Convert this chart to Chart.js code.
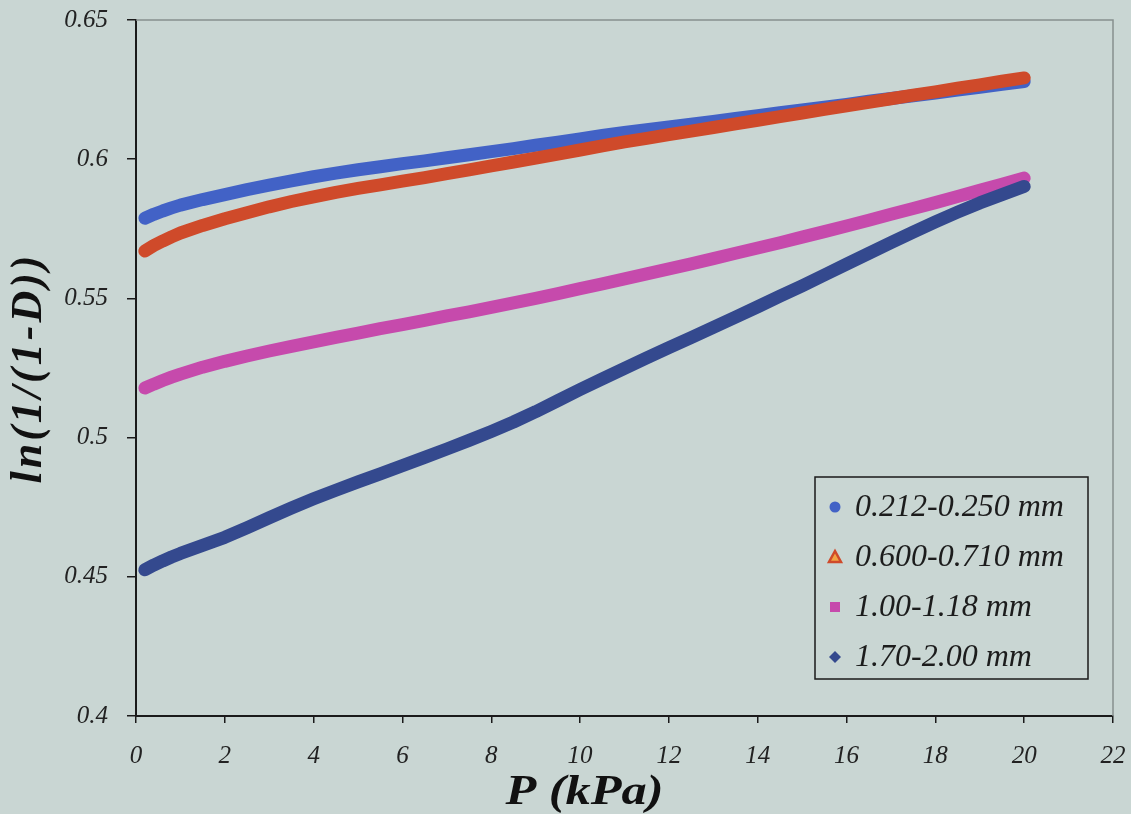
<!DOCTYPE html>
<html lang="en">
<head>
    <meta charset="UTF-8">
    <title>ln(1/(1-D)) vs P</title>
    <script src="https://cdn.jsdelivr.net/npm/chart.js"></script>
    <style>
        html, body { margin: 0; padding: 0; background: #c9d6d3; }
        #wrap { width: 1131px; height: 814px; }
    </style>
</head>
<body>
<div id="wrap"><canvas id="chart" width="1131" height="814"></canvas></div>
<script>
    // pressure P (kPa)
    const pressure = [0.2, 0.4, 0.6, 0.8, 1, 1.5, 2, 2.5, 3, 3.5, 4, 4.5, 5, 5.5, 6, 6.5, 7, 7.5, 8, 8.5,
        9, 9.5, 10, 10.5, 11, 11.5, 12, 12.5, 13, 13.5, 14, 14.5, 15, 15.5, 16, 16.5, 17, 17.5, 18, 18.5, 19, 19.5, 20];

    // ln(1/(1-D)) per size fraction
    const size212 = [0.5788, 0.5802, 0.5814, 0.5825, 0.5835, 0.5855, 0.5873, 0.5891, 0.5907, 0.5922, 0.5937, 0.5950,
        0.5962, 0.5973, 0.5984, 0.5994, 0.6005, 0.6016, 0.6027, 0.6038, 0.6050, 0.6061, 0.6073, 0.6085, 0.6096, 0.6106,
        0.6116, 0.6126, 0.6136, 0.6146, 0.6156, 0.6167, 0.6177, 0.6187, 0.6197, 0.6208, 0.6218, 0.6228, 0.6238, 0.6248,
        0.6258, 0.6269, 0.6279];
    const size600 = [0.5670, 0.5690, 0.5706, 0.5721, 0.5735, 0.5762, 0.5786, 0.5808, 0.5829, 0.5848, 0.5865, 0.5881,
        0.5895, 0.5908, 0.5921, 0.5934, 0.5948, 0.5962, 0.5976, 0.5990, 0.6004, 0.6018, 0.6033, 0.6048, 0.6062, 0.6075,
        0.6088, 0.6101, 0.6114, 0.6127, 0.6140, 0.6153, 0.6166, 0.6179, 0.6192, 0.6204, 0.6217, 0.6230, 0.6242, 0.6255,
        0.6267, 0.6280, 0.6292];
    const size100 = [0.5178, 0.5192, 0.5205, 0.5217, 0.5228, 0.5253, 0.5274, 0.5293, 0.5311, 0.5328, 0.5344, 0.5360,
        0.5375, 0.5391, 0.5406, 0.5421, 0.5437, 0.5452, 0.5468, 0.5484, 0.5500, 0.5517, 0.5535, 0.5552, 0.5570, 0.5588,
        0.5606, 0.5624, 0.5643, 0.5662, 0.5681, 0.5700, 0.5720, 0.5740, 0.5760, 0.5781, 0.5802, 0.5823, 0.5844, 0.5866,
        0.5888, 0.5910, 0.5932];
    const size170 = [0.4525, 0.4542, 0.4557, 0.4571, 0.4584, 0.4613, 0.4642, 0.4676, 0.4712, 0.4747, 0.4780, 0.4811,
        0.4841, 0.4870, 0.4899, 0.4929, 0.4959, 0.4990, 0.5022, 0.5056, 0.5093, 0.5133, 0.5173, 0.5211, 0.5249, 0.5286,
        0.5323, 0.5359, 0.5396, 0.5433, 0.5470, 0.5508, 0.5545, 0.5584, 0.5623, 0.5662, 0.5700, 0.5738, 0.5775, 0.5810,
        0.5843, 0.5873, 0.5902];

    const seriesNames = ['0.212-0.250 mm', '0.600-0.710 mm', '1.00-1.18 mm', '1.70-2.00 mm'];
    const xTicks = [0, 2, 4, 6, 8, 10, 12, 14, 16, 18, 20, 22];
    const yTicks = [0.4, 0.45, 0.5, 0.55, 0.6, 0.65];
    const xTitle = 'P (kPa)';
    const yTitle = 'ln(1/(1-D))';

    const serif = "'Liberation Serif', 'Times New Roman', serif";
    const colors = ['#4262c6', '#cf4a2a', '#c64aac', '#34498e'];
    const markers = ['circle', 'triangle', 'rect', 'rectRot'];

    const toPoints = vals => pressure.map((p, i) => ({ x: p, y: vals[i] }));

    // plot frame, legend box inside the plot, axis titles
    const boxLegend = {
        id: 'boxLegend',
        beforeDatasetsDraw(chart) {
            const { ctx, chartArea: a } = chart;
            ctx.save();
            ctx.strokeStyle = '#87908f';
            ctx.lineWidth = 1.5;
            ctx.beginPath();
            ctx.moveTo(a.left, a.top);
            ctx.lineTo(a.right, a.top);
            ctx.lineTo(a.right, a.bottom);
            ctx.stroke();
            ctx.restore();
        },
        afterDraw(chart) {
            const { ctx, chartArea: a } = chart;
            const w = 273, h = 202;
            const x0 = a.right - 25 - w, y0 = a.bottom - 37 - h;
            ctx.save();
            ctx.strokeStyle = '#1a1a1a';
            ctx.lineWidth = 1.5;
            ctx.strokeRect(x0, y0, w, h);
            ctx.font = 'italic 32px ' + serif;
            ctx.textBaseline = 'middle';
            chart.data.datasets.forEach((ds, i) => {
                const cy = y0 + 30 + i * 50;
                const cx = x0 + 20;
                ctx.beginPath();
                if (markers[i] === 'circle') {
                    ctx.arc(cx, cy, 5.5, 0, Math.PI * 2);
                    ctx.fillStyle = ds.borderColor;
                    ctx.fill();
                } else if (markers[i] === 'triangle') {
                    ctx.moveTo(cx, cy - 6);
                    ctx.lineTo(cx + 6, cy + 5);
                    ctx.lineTo(cx - 6, cy + 5);
                    ctx.closePath();
                    ctx.fillStyle = '#f2a444';
                    ctx.fill();
                    ctx.strokeStyle = ds.borderColor;
                    ctx.lineWidth = 2.5;
                    ctx.stroke();
                } else if (markers[i] === 'rect') {
                    ctx.rect(cx - 5, cy - 5, 10, 10);
                    ctx.fillStyle = ds.borderColor;
                    ctx.fill();
                } else {
                    ctx.moveTo(cx, cy - 6);
                    ctx.lineTo(cx + 6, cy);
                    ctx.lineTo(cx, cy + 6);
                    ctx.lineTo(cx - 6, cy);
                    ctx.closePath();
                    ctx.fillStyle = ds.borderColor;
                    ctx.fill();
                }
                ctx.fillStyle = '#1c1c1c';
                ctx.fillText(ds.label, x0 + 40, cy + 1);
            });

            // axis titles
            ctx.textAlign = 'center';
            ctx.textBaseline = 'middle';
            ctx.fillStyle = '#111';
            ctx.font = 'italic bold 42px ' + serif;
            ctx.save();
            ctx.translate((a.left + a.right) / 2 - 40, 793);
            ctx.scale(1.2, 1);
            ctx.fillText(xTitle, 0, 0);
            ctx.restore();
            ctx.letterSpacing = '3px';
            ctx.font = 'italic bold 44px ' + serif;
            ctx.translate(30, (a.top + a.bottom) / 2);
            ctx.rotate(-Math.PI / 2);
            ctx.fillText(yTitle, 0, 0);
            ctx.restore();
        }
    };

    const chart = new Chart(document.getElementById('chart'), {
        type: 'scatter',
        data: {
            datasets: [
                { label: seriesNames[0], data: toPoints(size212), borderColor: colors[0], backgroundColor: colors[0], order: 4 },
                { label: seriesNames[1], data: toPoints(size600), borderColor: colors[1], backgroundColor: colors[1], order: 3 },
                { label: seriesNames[2], data: toPoints(size100), borderColor: colors[2], backgroundColor: colors[2], order: 2 },
                { label: seriesNames[3], data: toPoints(size170), borderColor: colors[3], backgroundColor: colors[3], order: 1 }
            ].map(ds => Object.assign(ds, {
                showLine: true,
                pointRadius: 0,
                borderWidth: 13,
                borderCapStyle: 'round',
                borderJoinStyle: 'round',
                tension: 0
            }))
        },
        options: {
            responsive: false,
            animation: false,
            events: [],
            layout: { padding: { top: 20, right: 18, bottom: 0, left: 0 } },
            plugins: { legend: { display: false }, tooltip: { enabled: false } },
            scales: {
                x: {
                    type: 'linear',
                    min: 0,
                    max: 22,
                    afterBuildTicks: s => { s.ticks = xTicks.map(v => ({ value: v })); },
                    afterFit: s => { s.height = 98; s.paddingLeft = 0; s.paddingRight = 0; },
                    grid: { display: true, drawOnChartArea: false, drawTicks: true, tickLength: 7, color: '#1a1a1a', lineWidth: 1.5 },
                    border: { display: true, color: '#1a1a1a', width: 2 },
                    ticks: { font: { family: serif, size: 25, style: 'italic' }, color: '#222', padding: 18, maxRotation: 0 }
                },
                y: {
                    type: 'linear',
                    min: 0.4,
                    max: 0.65,
                    afterBuildTicks: s => { s.ticks = yTicks.map(v => ({ value: v })); },
                    afterFit: s => { s.width = 136; s.paddingTop = 0; s.paddingBottom = 0; },
                    grid: { display: true, drawOnChartArea: false, drawTicks: true, tickLength: 9, color: '#1a1a1a', lineWidth: 1.5 },
                    border: { display: true, color: '#1a1a1a', width: 2 },
                    ticks: { font: { family: serif, size: 25, style: 'italic' }, color: '#222', padding: 19, callback: v => String(v) }
                }
            }
        },
        plugins: [boxLegend]
    });
</script>
</body>
</html>
